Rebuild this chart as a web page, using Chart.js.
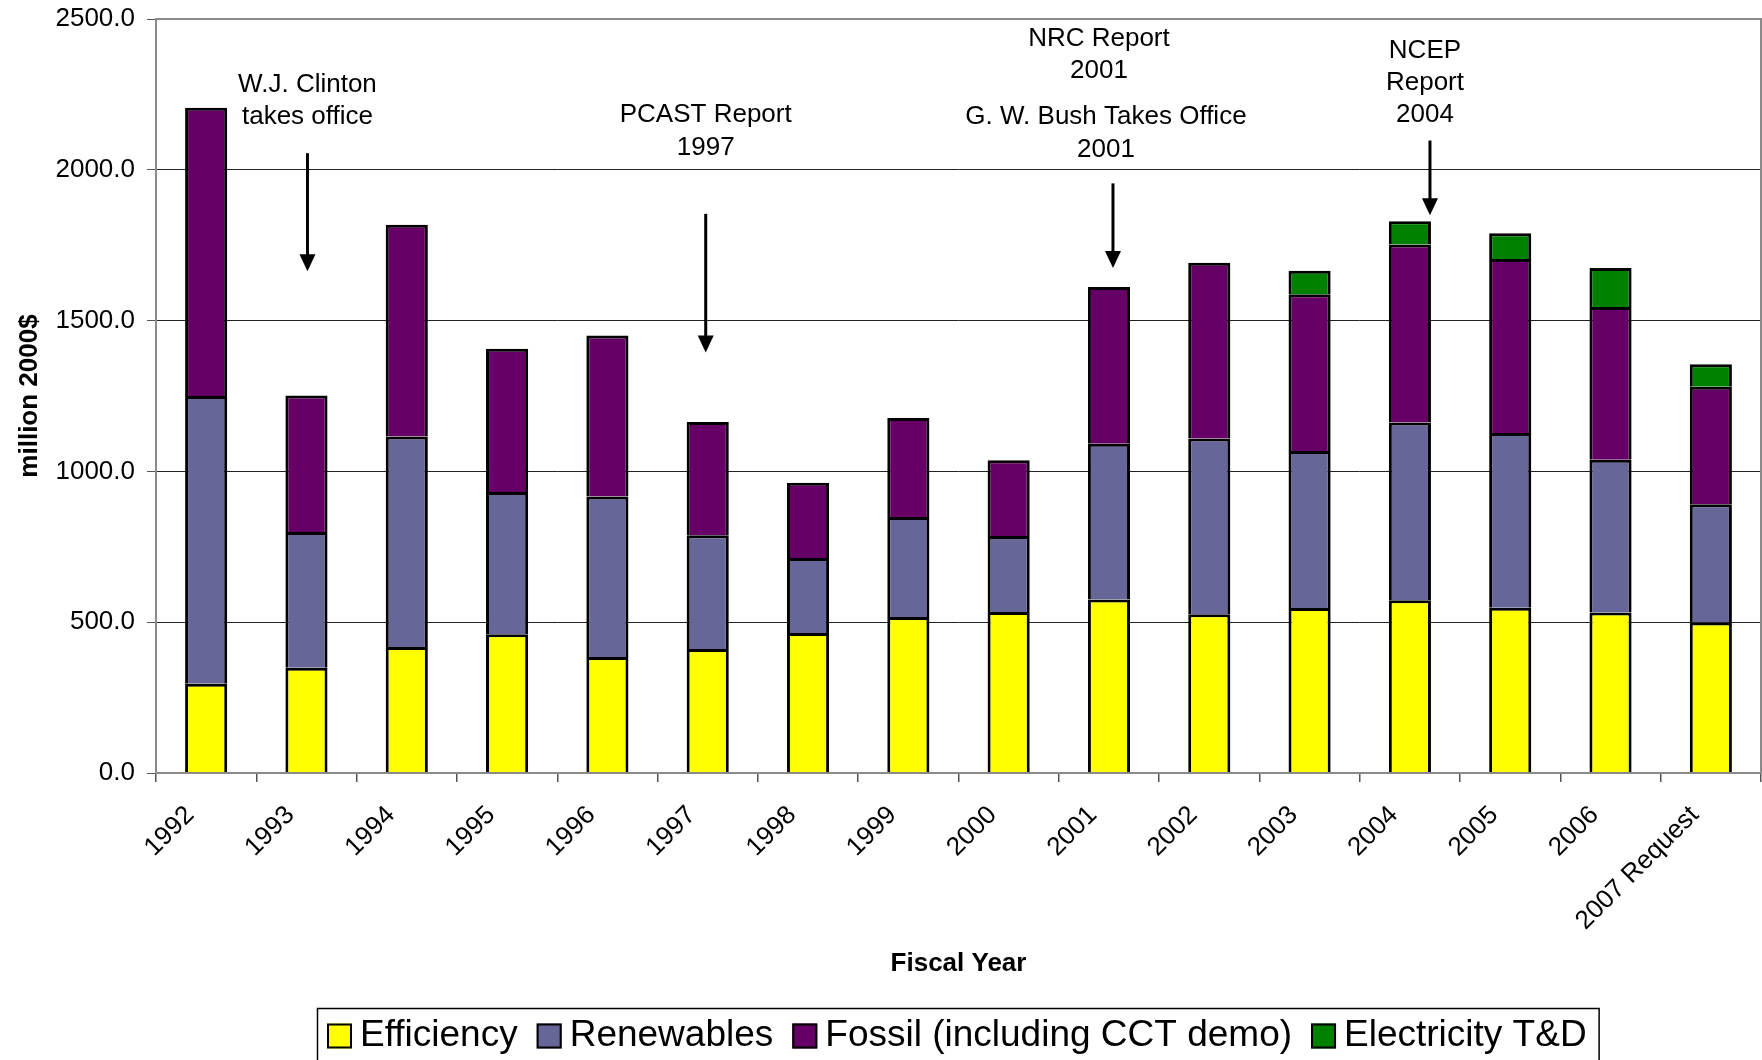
<!DOCTYPE html>
<html>
<head>
<meta charset="utf-8">
<script src="https://cdn.jsdelivr.net/npm/chart.js@4.4.1/dist/chart.umd.min.js"></script>
<style>
  html, body { margin: 0; padding: 0; background: #fff; }
  #wrap { width: 1762px; height: 1060px; position: relative; }
</style>
</head>
<body>
<div id="wrap"><canvas id="budget"></canvas></div>
<script>
  // DOE energy R&D spending by program, million 2000$
  var years = ["1992", "1993", "1994", "1995", "1996", "1997", "1998", "1999",
               "2000", "2001", "2002", "2003", "2004", "2005", "2006", "2007 Request"];
  var efficiency = [296, 349, 418, 460, 385, 411, 464, 517, 534, 575, 526, 547, 573, 548, 532, 499];
  var renewables = [954, 450, 698, 472, 532, 377, 249, 332, 252, 517, 583, 521, 589, 579, 507, 392];
  var fossil     = [956, 453, 702, 475, 534, 376, 249, 328, 251, 519, 583, 519, 590, 577, 506, 390];
  var electricTD = [null, null, null, null, null, null, null, null, null, null, null, 78, 77, 86, 129, 74];

  var yTicks = [0, 500, 1000, 1500, 2000, 2500];

  // event notes: text lines (category position, value) and arrows
  var noteLines = ["W.J. Clinton", "takes office", "PCAST Report", "1997",
                   "NRC Report", "2001", "G. W. Bush Takes Office", "2001",
                   "NCEP", "Report", "2004"];
  var noteAt    = [1.01, 1.01, 4.98, 4.98, 8.9, 8.9, 8.97, 8.97, 12.15, 12.15, 12.15];
  var noteY     = [2282, 2174, 2182, 2074, 2435, 2327, 2174, 2066, 2394, 2290, 2182];
  var arrowAt   = [1.01, 4.98, 9.04, 12.2];
  var arrowFrom = [2055, 1854, 1955, 2097];
  var arrowTo   = [1664, 1394, 1674, 1849];

  var FONT = "'Liberation Sans', Arial, sans-serif";
  Chart.defaults.font.family = FONT;
  Chart.defaults.color = "#000";

  function xAt(chart, pos) {
    var xs = chart.scales.x;
    return xs.left + (pos + 0.5) * (xs.width / years.length);
  }

  var framePlugin = {
    id: "frame",
    afterDatasetsDraw: function (chart) {
      var a = chart.chartArea, ctx = chart.ctx;
      ctx.save();
      ctx.strokeStyle = "#8a8a8a";
      ctx.lineWidth = 2;
      ctx.strokeRect(a.left, a.top, a.right - a.left, a.bottom - a.top);
      ctx.restore();
    }
  };

  var notesPlugin = {
    id: "notes",
    afterDraw: function (chart) {
      var ctx = chart.ctx, y = chart.scales.y;
      ctx.save();
      ctx.fillStyle = "#000";
      ctx.font = "26px " + FONT;
      ctx.textAlign = "center";
      ctx.textBaseline = "middle";
      noteLines.forEach(function (t, i) {
        ctx.fillText(t, xAt(chart, noteAt[i]), y.getPixelForValue(noteY[i]));
      });
      ctx.strokeStyle = "#000";
      ctx.lineWidth = 3;
      arrowAt.forEach(function (p, i) {
        var x = xAt(chart, p);
        var y0 = y.getPixelForValue(arrowFrom[i]);
        var y1 = y.getPixelForValue(arrowTo[i]);
        ctx.beginPath();
        ctx.moveTo(x, y0);
        ctx.lineTo(x, y1 - 14);
        ctx.stroke();
        ctx.beginPath();
        ctx.moveTo(x - 8, y1 - 17);
        ctx.lineTo(x + 8, y1 - 17);
        ctx.lineTo(x, y1);
        ctx.closePath();
        ctx.fill();
      });
      ctx.restore();
    }
  };

  var legendPlugin = {
    id: "boxLegend",
    afterDraw: function (chart) {
      var ctx = chart.ctx;
      var x = 327, cy = 1036, sw = 25, left = 317, top = 1008;
      ctx.save();
      ctx.font = "37px " + FONT;
      ctx.textBaseline = "middle";
      ctx.textAlign = "left";
      chart.data.datasets.forEach(function (ds, i) {
        ctx.fillStyle = ds.backgroundColor;
        ctx.fillRect(x, cy - sw / 2, sw, sw);
        ctx.strokeStyle = "#000";
        ctx.lineWidth = 2;
        ctx.strokeRect(x + 1, cy - sw / 2 + 1, sw - 2, sw - 2);
        x += sw + 8;
        ctx.fillStyle = "#000";
        ctx.fillText(ds.label, x, cy);
        x += ctx.measureText(ds.label).width;
        if (i < chart.data.datasets.length - 1) x += 19;
      });
      ctx.strokeStyle = "#000";
      ctx.lineWidth = 1.5;
      ctx.strokeRect(left + 0.5, top + 0.5, x + 12 - left, 80);
      ctx.restore();
    }
  };

  function bar(label, data, color) {
    return {
      label: label, data: data, backgroundColor: color,
      borderColor: "#000", borderWidth: 3,
      barPercentage: 0.42, categoryPercentage: 1.0
    };
  }

  new Chart(document.getElementById("budget"), {
    type: "bar",
    data: {
      labels: years,
      datasets: [
        bar("Efficiency", efficiency, "#FFFF00"),
        bar("Renewables", renewables, "#666699"),
        bar("Fossil (including CCT demo)", fossil, "#660066"),
        bar("Electricity T&D", electricTD, "#008000")
      ]
    },
    options: {
      responsive: true, maintainAspectRatio: false, animation: false,
      layout: { padding: { left: 0, top: 19, right: 1, bottom: 0 } },
      plugins: { legend: { display: false }, tooltip: { enabled: false } },
      scales: {
        x: {
          stacked: true,
          offset: true,
          border: { display: false },
          grid: { offset: true, drawOnChartArea: false, drawTicks: true, tickLength: 9, tickColor: "#555", lineWidth: 1.5 },
          ticks: { autoSkip: false, minRotation: 45, maxRotation: 45, padding: 18, labelOffset: -16, font: { size: 26 }, color: "#000" },
          title: { display: true, text: "Fiscal Year", font: { size: 26, weight: "bold" }, padding: { top: 0, bottom: 81 } },
          afterFit: function (s) { s.height = 287; s.paddingLeft = 0; s.paddingRight = 0; }
        },
        y: {
          stacked: true,
          min: 0, max: 2500,
          border: { display: false },
          afterBuildTicks: function (s) { s.ticks = yTicks.map(function (v) { return { value: v }; }); },
          grid: {
            color: function (c) { return (c.tick && (c.tick.value === 0 || c.tick.value === 2500)) ? "rgba(0,0,0,0)" : "#222"; },
            lineWidth: 1, tickLength: 9, tickColor: "#555"
          },
          ticks: { padding: 12, font: { size: 26 }, color: "#000", callback: function (v) { return Number(v).toFixed(1); } },
          title: { display: true, text: "million 2000$", font: { size: 26, weight: "bold" }, padding: { top: 14, bottom: 0 } },
          afterFit: function (s) { s.width = 156; s.paddingTop = 0; s.paddingBottom = 0; }
        }
      }
    },
    plugins: [framePlugin, notesPlugin, legendPlugin]
  });
</script>
</body>
</html>
